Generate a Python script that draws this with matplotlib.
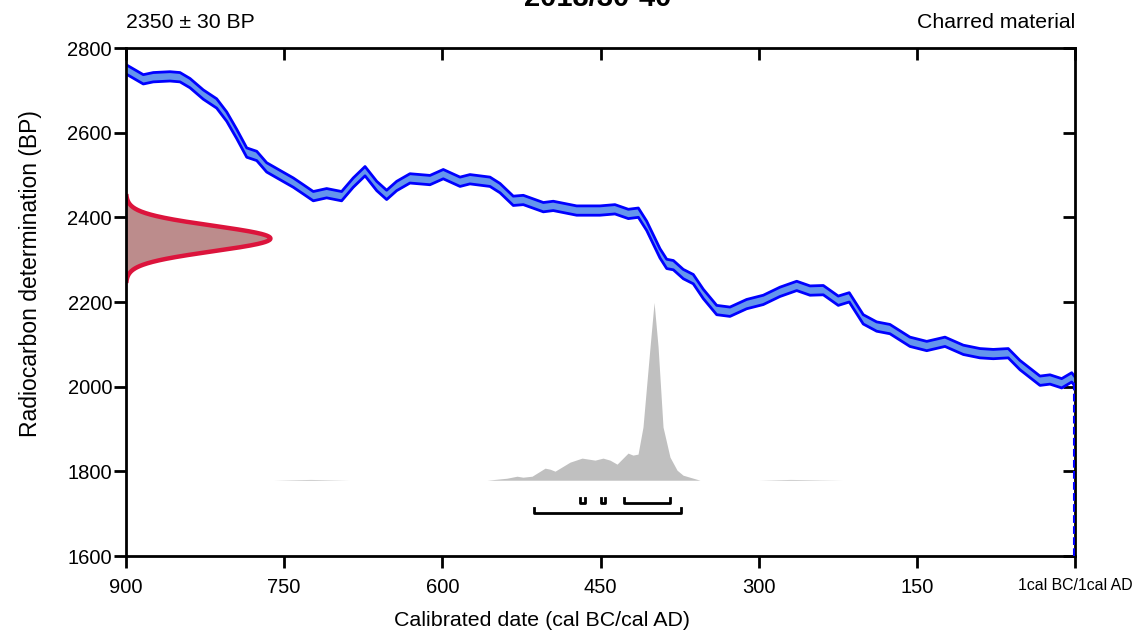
import numpy as np
import matplotlib
matplotlib.use("Agg")
import matplotlib.pyplot as plt

plt.rcParams['font.family'] = ['Liberation Sans', 'DejaVu Sans']

sample_name = "2018/30-40"
date_label = "2350 ± 30 BP"
material = "Charred material"
c14_mean = 2350
c14_sd = 30

# calibration curve (cal BC, BP)
curve_bc = [898.8, 883.6, 874.1, 858.3, 848.8, 839.3, 826.7, 814.0, 804.5, 795.0,
            785.5, 776.0, 766.6, 754.0, 741.3, 731.8, 722.4, 709.7, 695.5, 684.5,
            673.3, 662.2, 652.8, 643.3, 630.7, 611.7, 599.1, 583.2, 573.8, 554.8,
            545.3, 532.7, 523.2, 504.2, 494.8, 472.6, 450.5, 436.3, 423.6, 414.1,
            406.2, 393.6, 387.2, 380.9, 371.5, 362.0, 352.5, 339.8, 327.2, 311.4,
            295.6, 279.8, 263.9, 251.3, 238.7, 224.5, 214.1, 200.8, 188.1, 175.5,
            156.5, 140.6, 123.3, 105.9, 90.1, 77.5, 63.3, 52.2, 33.2, 23.7, 12.6,
            3.1, 0]
curve_bp = [2748, 2726, 2731, 2733, 2731, 2717, 2690, 2669, 2638, 2597,
            2553, 2545, 2518, 2500, 2482, 2466, 2450, 2457, 2450, 2482,
            2509, 2474, 2453, 2474, 2492, 2488, 2502, 2484, 2490, 2484,
            2469, 2439, 2441, 2424, 2427, 2416, 2416, 2419, 2408, 2411,
            2380, 2315, 2290, 2287, 2266, 2254, 2219, 2181, 2177, 2195,
            2205, 2224, 2238, 2227, 2228, 2203, 2211, 2159, 2142, 2136,
            2106, 2096, 2106, 2087, 2079, 2077, 2079, 2051, 2014, 2017, 2008,
            2022, 2012]
curve_err = 11

# calibrated probability (cal BC, relative)
post_bc = [760, 744, 725, 707, 688, 600, 557.6, 538.7, 529.2, 523.5, 514.9, 502.6,
           497.9, 493.1, 478.9, 467.5, 455.2, 447.6, 441.0, 434.3, 423.9, 419.2,
           414.4, 409.7, 403.0, 399.2, 395.4, 390.7, 384.1, 377.4, 371.7, 355.6,
           300, 270, 240, 220]
post_p = [0, 0.4, 0.8, 0.4, 0, 0, 0, 2, 4, 3, 4, 12, 11, 9, 18, 22, 20, 22, 20, 16,
          27, 25, 26, 53, 133, 177, 133, 53, 23, 10, 5, 0, 0, 0.8, 0.3, 0]

range_95 = [(513, 374)]
range_68 = [(469, 465), (450, 446), (428, 384)]

fig = plt.figure(figsize=(11.36, 6.32), dpi=100)
ax = fig.add_axes([126/1136, 1-556/632, 949/1136, 508/632])

# calibration curve band
cb = np.array(curve_bc)
cp = np.array(curve_bp)
ax.fill_between(cb, cp - curve_err, cp + curve_err, color='#6495ed', lw=0, zorder=3)
for edge in (cp + curve_err, cp - curve_err):
    ax.plot(cb, edge, color='#0000ff', lw=2.0, zorder=4, solid_joinstyle='round')
ax.plot([0.6, 0.6], [1600, cp[-1]], color='#0000ff', lw=1.5, ls='--', zorder=7)

# radiocarbon determination
bp = np.linspace(c14_mean - 3.5*c14_sd, c14_mean + 3.5*c14_sd, 300)
dens = np.exp(-0.5*((bp - c14_mean)/c14_sd)**2)
xr = 900 - 137*dens
ax.fill_betweenx(bp, 900, xr, color='#bc8c8c', lw=0, zorder=3)
ax.plot(xr, bp, color='#dc143c', lw=3.2, zorder=4, solid_capstyle='butt')

# posterior
pb = np.array(post_bc)
pp = np.array(post_p) / max(post_p) * 420
ax.fill_between(pb, 1779, 1779 + pp, color='#c0c0c0', lw=0, zorder=2)

# ranges
for lo, hi in range_95:
    ax.plot([lo, lo, hi, hi], [1713, 1701, 1701, 1713], color='black', lw=2, zorder=5)
for lo, hi in range_68:
    ax.plot([lo, lo, hi, hi], [1737, 1725, 1725, 1737], color='black', lw=2, zorder=5)

ax.set_xlim(900, 0)
ax.set_ylim(1600, 2800)
ax.set_xticks([900, 750, 600, 450, 300, 150, 0])
ax.set_xticklabels(['900', '750', '600', '450', '300', '150', ''])
ax.set_yticks([1600, 1800, 2000, 2200, 2400, 2600, 2800])
ax.tick_params(axis='both', which='both', width=2, length=8.5, labelsize=14.5,
               top=True, right=True, direction='out')
ax.tick_params(axis='x', pad=7)
ax.tick_params(axis='y', pad=1.5)
for t in ax.xaxis.get_ticklines()[1::2]:
    t.set_marker(3)
for t in ax.yaxis.get_ticklines()[1::2]:
    t.set_marker(0)
for s in ax.spines.values():
    s.set_linewidth(2)
    s.set_zorder(6)

fig.text(1075/1136, 1-586/632, '1cal BC/1cal AD', ha='center', va='center', fontsize=11.4)

fig.text(542/1136, 1-620/632, 'Calibrated date (cal BC/cal AD)', ha='center',
         va='center', fontsize=15.4)
fig.text(31/1136, 1-274/632, 'Radiocarbon determination (BP)', ha='center',
         va='center', rotation=90, fontsize=16.5)

fig.text(126/1136, 1-22/632, date_label, ha='left', va='center', fontsize=15.3)
fig.text(1075/1136, 1-22/632, material, ha='right', va='center', fontsize=15.3)
fig.text(598/1136, 1-5.5/632, sample_name, ha='center', va='baseline', fontsize=21,
         fontweight='bold')

fig.savefig('out.png', dpi=100)
